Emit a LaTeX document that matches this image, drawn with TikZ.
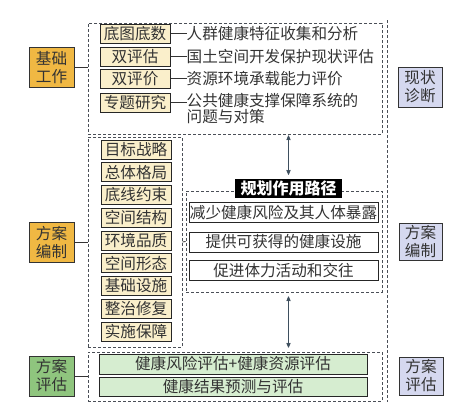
\documentclass[tikz,border=0pt]{standalone}
\usepackage{fontspec}
\newfontfamily\cjk{Noto Sans CJK SC}
\usepackage{tikz}
\usetikzlibrary{positioning,arrows}
\definecolor{textgray}{HTML}{333333}
\definecolor{dashgray}{HTML}{4A4F57}
\definecolor{basefill}{HTML}{F0B843}
\definecolor{evalfill}{HTML}{8FC57E}
\definecolor{itemfill}{HTML}{FAEFCB}
\definecolor{greenitem}{HTML}{D6EDD0}
\definecolor{stagefill}{HTML}{D5D8EF}
\definecolor{arrowgray}{HTML}{3E4F5E}
\tikzset{
        >=stealth', % arrow heads of the two links
        every node/.style={font=\cjk\fontsize{15.6}{18}\selectfont, text=textgray, inner sep=0pt},
        cat/.style={draw=textgray, line width=1pt, align=center, minimum width=45pt, minimum height=40pt}, % boxes on the left
        stage/.style={cat, fill=stagefill, minimum width=44pt}, % boxes on the right
        item/.style={draw=black!85, line width=1pt, fill=itemfill, minimum width=70pt, minimum height=19pt},
        route/.style={draw=black!85, line width=1pt, fill=white, minimum width=189pt, minimum height=20pt},
        result/.style={draw=black!85, line width=1pt, fill=greenitem, minimum width=268pt, minimum height=20pt},
        group/.style={draw=dashgray, dashed, dash pattern=on 3pt off 2pt, line width=0.7pt},
        link/.style={<->, draw=arrowgray, line width=0.8pt, shorten <=1pt, shorten >=4pt},
}
\begin{document}
\begin{tikzpicture}[x=1pt,y=-1pt]
\useasboundingbox (0,0) rectangle (474,410);

% dashed groups
\node[group, minimum width=294pt, minimum height=111pt] (T) at (235,78.5) {};
\node[group, minimum width=94pt, minimum height=210pt] (L) at (135,242) {};
\node[group, minimum width=196pt, minimum height=101pt] (P) at (284,241.5) {};
\node[group, minimum width=294pt, minimum height=49pt] (B) at (235,376.5) {};
\coordinate (outT) at (387,20);
\coordinate (outB) at (387,402);
\draw[group] (outT) -- (outB);

% left column
\node[cat, fill=basefill] (base) at (51.5,67.5) {基础\\工作};
\node[cat, fill=basefill] (plan) at (51.5,242.5) {方案\\编制};
\node[cat, fill=evalfill] (eval) at (51.5,376) {方案\\评估};
\draw[textgray, line width=0.8pt] (base.east) -- (base.east -| T.west);
\draw[textgray, line width=0.8pt] (plan.east) -- (plan.east -| L.west);
\draw[textgray, line width=0.8pt] (eval.east) -- (eval.east -| B.west);

% basic work
\foreach \i/\y/\t/\d in {1/33.5/底图底数/人群健康特征收集和分析, 2/56.5/双评估/国土空间开发保护现状评估, 3/78.5/双评价/资源环境承载能力评价}
{
  \node[item] (d\i) at (135,\y) {\t};
  \node[right=16pt of d\i] (n\i) {\d};
  \draw[textgray, line width=0.8pt] (d\i.east) -- (n\i.west);
}
\node[item] (d4) at (135,102.5) {专题研究};
\node[anchor=north west, align=left, font=\cjk\fontsize{15.6}{16}\selectfont] (n4) at ([xshift=16pt,yshift=-1pt]d4.north east) {公共健康支撑保障系统的\\问题与对策};
\draw[textgray, line width=0.8pt] (d4.east) -- (d4.east -| n4.west);

% plan contents
\foreach \i/\t in {1/目标战略, 2/总体格局, 3/底线约束, 4/空间结构, 5/环境品质, 6/空间形态, 7/基础设施, 8/整治修复, 9/实施保障}
  \node[item] (s\i) at (136,{149.5+22.75*(\i-1)}) {\t};
\draw[textgray, line width=0.8pt] (L.east) -- (P.west);

% planning route
\node[fill=black, text=white, font=\cjk\bfseries\fontsize{16}{18}\selectfont, minimum width=107pt, minimum height=19pt] (title) at (288.5,188.5) {规划作用路径};
\node[route] (r1) at (283.5,212.5) {减少健康风险及其人体暴露};
\node[route] (r2) at (283.5,242) {提供可获得的健康设施};
\node[route] (r3) at (283.5,270.5) {促进体力活动和交往};

% evaluation
\node[result] (e1) at (233,364) {健康风险评估+健康资源评估};
\node[result, minimum height=19pt] (e2) at (233,386.5) {健康结果预测与评估};

% links
\draw[link] (title.north |- T.south) -- (title.north);
\draw[link, shorten <=4pt] (title.south |- P.south) -- (title.south |- B.north);

% right column
\node[stage] (s1r) at (420,87) {现状\\诊断};
\node[stage, minimum width=43pt, minimum height=37pt] (s2r) at (420.5,241.5) {方案\\编制};
\node[stage, minimum height=38pt] (s3r) at (421,376) {方案\\评估};
\end{tikzpicture}
\end{document}
